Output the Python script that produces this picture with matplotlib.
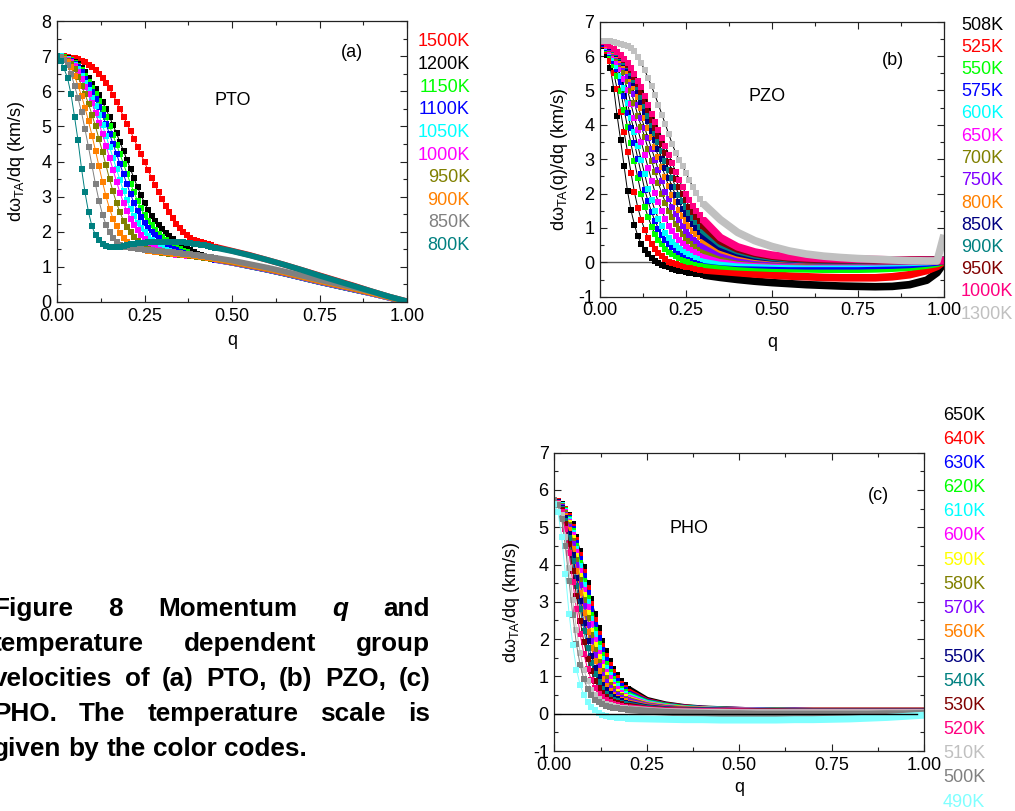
import matplotlib
matplotlib.use('Agg')
import matplotlib.pyplot as plt
from matplotlib.ticker import MultipleLocator, FormatStrFormatter

plt.rcParams['font.family'] = ['Liberation Sans', 'DejaVu Sans']
plt.rcParams['mathtext.fontset'] = 'custom'
plt.rcParams['mathtext.rm'] = 'Liberation Sans'
plt.rcParams['mathtext.it'] = 'Liberation Sans:italic'
plt.rcParams['axes.unicode_minus'] = False

W, H = 1015, 811

# ---------------- (a) PTO ----------------
q_a = [0.00, 0.01, 0.02, 0.03, 0.04, 0.05, 0.06, 0.07, 0.08, 0.09,
       0.10, 0.11, 0.12, 0.13, 0.14, 0.15, 0.16, 0.17, 0.18, 0.19,
       0.20, 0.21, 0.22, 0.23, 0.24, 0.25, 0.26, 0.27, 0.28, 0.29,
       0.30, 0.31, 0.32, 0.33, 0.34, 0.35, 0.36, 0.37, 0.38, 0.39,
       0.40, 0.41, 0.42, 0.43, 0.44, 0.45,
       0.50, 0.55, 0.60, 0.65, 0.70, 0.75, 0.80, 0.85, 0.90, 0.95, 1.00]
n_fine_a = 46
pto_labels = ['1500K', '1200K', '1150K', '1100K', '1050K', '1000K', '950K', '900K', '850K', '800K']
pto_colors = ['#ff0000', '#000000', '#00ff00', '#0000ff', '#00ffff', '#ff00ff',
              '#808000', '#ff8000', '#808080', '#008080']
pto_1500 = [7.00, 7.00, 6.99, 6.98, 6.96, 6.94, 6.91, 6.87, 6.82, 6.76,
            6.69, 6.60, 6.50, 6.38, 6.24, 6.08, 5.90, 5.70, 5.49, 5.28,
            5.07, 4.86, 4.64, 4.42, 4.20, 3.98, 3.76, 3.54, 3.33, 3.12,
            2.92, 2.73, 2.55, 2.38, 2.23, 2.10, 1.99, 1.90, 1.83, 1.77,
            1.73, 1.70, 1.67, 1.64, 1.61, 1.58,
            1.46, 1.34, 1.20, 1.06, 0.91, 0.76, 0.61, 0.46, 0.30, 0.15, 0.02]
pto_1200 = [7.00, 6.99, 6.97, 6.94, 6.89, 6.84, 6.77, 6.67, 6.54, 6.38,
            6.21, 6.05, 5.88, 5.69, 5.49, 5.27, 5.04, 4.80, 4.55, 4.30,
            4.04, 3.78, 3.52, 3.27, 3.04, 2.82, 2.63, 2.46, 2.31, 2.18,
            2.07, 1.97, 1.88, 1.80, 1.72, 1.65, 1.58, 1.52, 1.47, 1.42,
            1.38, 1.34, 1.30, 1.27, 1.24, 1.21,
            1.12, 1.02, 0.92, 0.81, 0.69, 0.57, 0.46, 0.35, 0.24, 0.12, 0.00]
pto_1150 = [7.00, 6.99, 6.97, 6.93, 6.88, 6.81, 6.72, 6.60, 6.44, 6.26,
            6.09, 5.91, 5.71, 5.49, 5.26, 5.01, 4.75, 4.48, 4.21, 3.93,
            3.65, 3.37, 3.12, 2.88, 2.67, 2.48, 2.31, 2.18, 2.06, 1.95,
            1.85, 1.76, 1.68, 1.61, 1.55, 1.50, 1.45, 1.41, 1.38, 1.35,
            1.32, 1.29, 1.27, 1.25, 1.23, 1.21,
            1.12, 1.02, 0.92, 0.81, 0.69, 0.57, 0.46, 0.35, 0.24, 0.12, 0.00]
pto_1100 = [7.00, 6.99, 6.96, 6.92, 6.86, 6.79, 6.69, 6.55, 6.36, 6.17,
            5.99, 5.78, 5.56, 5.32, 5.06, 4.79, 4.50, 4.22, 3.92, 3.63,
            3.35, 3.07, 2.82, 2.60, 2.42, 2.26, 2.12, 2.00, 1.90, 1.81,
            1.72, 1.64, 1.57, 1.51, 1.47, 1.43, 1.40, 1.37, 1.35, 1.33,
            1.30, 1.28, 1.26, 1.24, 1.22, 1.20,
            1.12, 1.02, 0.92, 0.81, 0.69, 0.57, 0.46, 0.35, 0.24, 0.12, 0.00]
pto_1050 = [7.00, 6.99, 6.96, 6.91, 6.84, 6.75, 6.62, 6.44, 6.23, 6.03,
            5.81, 5.57, 5.31, 5.03, 4.73, 4.42, 4.11, 3.78, 3.47, 3.16,
            2.89, 2.64, 2.44, 2.26, 2.11, 1.98, 1.87, 1.77, 1.68, 1.60,
            1.53, 1.48, 1.44, 1.41, 1.38, 1.36, 1.34, 1.32, 1.31, 1.30,
            1.28, 1.27, 1.25, 1.24, 1.22, 1.21,
            1.12, 1.03, 0.93, 0.82, 0.70, 0.58, 0.47, 0.36, 0.24, 0.12, 0.00]
pto_1000 = [7.00, 6.98, 6.95, 6.89, 6.82, 6.71, 6.55, 6.34, 6.13, 5.91,
            5.66, 5.39, 5.09, 4.77, 4.45, 4.11, 3.77, 3.43, 3.11, 2.82,
            2.58, 2.37, 2.19, 2.04, 1.92, 1.80, 1.69, 1.60, 1.53, 1.48,
            1.44, 1.41, 1.39, 1.37, 1.35, 1.34, 1.33, 1.32, 1.31, 1.30,
            1.28, 1.27, 1.25, 1.24, 1.22, 1.21,
            1.12, 1.03, 0.93, 0.82, 0.70, 0.58, 0.47, 0.36, 0.24, 0.12, 0.00]
pto_950 = [7.00, 6.98, 6.94, 6.87, 6.78, 6.62, 6.41, 6.16, 5.92, 5.64,
           5.33, 5.00, 4.64, 4.27, 3.89, 3.50, 3.15, 2.82, 2.55, 2.32,
           2.13, 1.98, 1.86, 1.74, 1.64, 1.57, 1.51, 1.47, 1.44, 1.42,
           1.40, 1.39, 1.38, 1.37, 1.36, 1.35, 1.34, 1.33, 1.32, 1.31,
           1.29, 1.28, 1.26, 1.25, 1.23, 1.22,
           1.13, 1.04, 0.94, 0.83, 0.71, 0.59, 0.48, 0.37, 0.25, 0.13, 0.00]
pto_900 = [7.00, 6.98, 6.92, 6.83, 6.68, 6.44, 6.16, 5.87, 5.53, 5.15,
           4.74, 4.31, 3.86, 3.42, 3.01, 2.66, 2.37, 2.15, 1.97, 1.83,
           1.72, 1.64, 1.58, 1.53, 1.50, 1.47, 1.45, 1.44, 1.43, 1.42,
           1.41, 1.40, 1.39, 1.38, 1.37, 1.36, 1.35, 1.34, 1.33, 1.32,
           1.30, 1.29, 1.27, 1.26, 1.24, 1.23,
           1.15, 1.05, 0.95, 0.84, 0.72, 0.60, 0.49, 0.38, 0.26, 0.13, 0.00]
pto_850 = [7.00, 6.97, 6.88, 6.75, 6.50, 6.16, 5.81, 5.40, 4.92, 4.41,
           3.88, 3.35, 2.88, 2.49, 2.20, 1.98, 1.81, 1.70, 1.62, 1.58,
           1.56, 1.54, 1.53, 1.52, 1.51, 1.49, 1.48, 1.47, 1.46, 1.45,
           1.44, 1.43, 1.42, 1.41, 1.40, 1.39, 1.38, 1.37, 1.36, 1.35,
           1.33, 1.32, 1.30, 1.29, 1.27, 1.26,
           1.18, 1.08, 0.98, 0.87, 0.75, 0.63, 0.52, 0.41, 0.29, 0.15, 0.01]
pto_800 = [7.00, 6.86, 6.65, 6.38, 5.92, 5.28, 4.60, 3.80, 3.12, 2.56,
           2.15, 1.91, 1.76, 1.66, 1.60, 1.57, 1.56, 1.57, 1.58, 1.60,
           1.62, 1.64, 1.65, 1.67, 1.68, 1.69, 1.70, 1.71, 1.71, 1.72,
           1.72, 1.72, 1.72, 1.72, 1.71, 1.71, 1.70, 1.69, 1.68, 1.66,
           1.65, 1.63, 1.61, 1.59, 1.57, 1.55,
           1.45, 1.33, 1.20, 1.06, 0.91, 0.75, 0.60, 0.45, 0.30, 0.15, 0.02]
pto_series = [pto_1500, pto_1200, pto_1150, pto_1100, pto_1050,
              pto_1000, pto_950, pto_900, pto_850, pto_800]

# ---------------- (b) PZO ----------------
q_b = [0.00, 0.01, 0.02, 0.03, 0.04, 0.05, 0.06, 0.07, 0.08, 0.09,
       0.10, 0.11, 0.12, 0.13, 0.14, 0.15, 0.16, 0.17, 0.18, 0.19,
       0.20, 0.21, 0.22, 0.23, 0.24, 0.25, 0.26, 0.27, 0.28, 0.29, 0.30,
       0.35, 0.40, 0.45, 0.50, 0.55, 0.60, 0.65, 0.70, 0.75, 0.80,
       0.85, 0.90, 0.95, 0.98, 1.00]
n_fine_b = 31
pzo_labels = ['508K', '525K', '550K', '575K', '600K', '650K', '700K', '750K',
              '800K', '850K', '900K', '950K', '1000K', '1300K']
pzo_colors = ['#000000', '#ff0000', '#00ff00', '#0000ff', '#00ffff', '#ff00ff',
              '#808000', '#8000ff', '#ff8000', '#000080', '#008080', '#800000',
              '#ff0080', '#c0c0c0']
pzo_508 = [6.45, 6.30, 6.03, 5.65, 5.05, 4.25, 3.55, 2.80, 2.07, 1.52,
           1.10, 0.76, 0.53, 0.37, 0.24, 0.13, 0.05, -0.02, -0.07, -0.11,
           -0.15, -0.18, -0.21, -0.24, -0.26, -0.28, -0.30, -0.32, -0.34, -0.35, -0.37,
           -0.44, -0.50, -0.55, -0.59, -0.62, -0.65, -0.67, -0.69, -0.70, -0.71,
           -0.70, -0.65, -0.52, -0.30, -0.02]
pzo_525 = [6.45, 6.33, 6.14, 5.87, 5.51, 5.03, 4.38, 3.80, 3.21, 2.61,
           2.04, 1.59, 1.23, 0.95, 0.70, 0.52, 0.38, 0.26, 0.17, 0.09,
           0.02, -0.02, -0.05, -0.08, -0.10, -0.13, -0.15, -0.17, -0.19, -0.21, -0.22,
           -0.26, -0.30, -0.34, -0.37, -0.40, -0.42, -0.44, -0.45, -0.45, -0.45,
           -0.42, -0.36, -0.24, -0.12, 0.03]
pzo_550 = [6.45, 6.35, 6.20, 6.02, 5.75, 5.41, 4.99, 4.44, 3.94, 3.46,
           2.95, 2.45, 1.98, 1.61, 1.32, 1.04, 0.81, 0.65, 0.52, 0.40,
           0.31, 0.24, 0.17, 0.12, 0.08, 0.05, 0.02, 0.00, -0.02, -0.04, -0.05,
           -0.10, -0.13, -0.15, -0.17, -0.18, -0.19, -0.20, -0.20, -0.20, -0.19,
           -0.17, -0.14, -0.08, -0.03, 0.04]
pzo_575 = [6.45, 6.36, 6.24, 6.08, 5.86, 5.62, 5.25, 4.83, 4.35, 3.91,
           3.47, 3.02, 2.57, 2.11, 1.77, 1.46, 1.20, 0.98, 0.79, 0.66,
           0.54, 0.45, 0.36, 0.30, 0.25, 0.21, 0.17, 0.13, 0.10, 0.08, 0.07,
           0.02, -0.03, -0.06, -0.08, -0.09, -0.10, -0.10, -0.10, -0.10, -0.09,
           -0.08, -0.06, -0.02, 0.01, 0.05]
pzo_600 = [6.45, 6.37, 6.26, 6.11, 5.93, 5.72, 5.42, 5.08, 4.63, 4.19,
           3.80, 3.39, 2.97, 2.56, 2.14, 1.81, 1.50, 1.27, 1.05, 0.86,
           0.72, 0.60, 0.51, 0.42, 0.36, 0.30, 0.25, 0.20, 0.16, 0.13, 0.09,
           0.03, 0.00, -0.01, -0.02, -0.03, -0.03, -0.03, -0.03, -0.03, -0.02,
           -0.01, 0.00, 0.02, 0.04, 0.05]
pzo_650 = [6.45, 6.37, 6.30, 6.16, 6.02, 5.83, 5.63, 5.33, 5.02, 4.61,
           4.21, 3.86, 3.50, 3.12, 2.75, 2.38, 2.03, 1.75, 1.48, 1.27,
           1.07, 0.91, 0.76, 0.65, 0.55, 0.48, 0.41, 0.35, 0.30, 0.26, 0.22,
           0.13, 0.08, 0.06, 0.04, 0.03, 0.02, 0.02, 0.02, 0.02, 0.02,
           0.03, 0.03, 0.04, 0.05, 0.05]
pzo_700 = [6.45, 6.38, 6.31, 6.20, 6.08, 5.93, 5.76, 5.55, 5.28, 4.99,
           4.63, 4.27, 3.95, 3.64, 3.30, 2.96, 2.62, 2.30, 2.00, 1.74,
           1.50, 1.31, 1.12, 0.97, 0.83, 0.72, 0.61, 0.54, 0.47, 0.41, 0.36,
           0.21, 0.13, 0.09, 0.07, 0.05, 0.04, 0.04, 0.04, 0.04, 0.04,
           0.04, 0.05, 0.05, 0.05, 0.05]
pzo_750 = [6.45, 6.39, 6.32, 6.23, 6.11, 5.99, 5.83, 5.67, 5.42, 5.17,
           4.91, 4.58, 4.21, 3.91, 3.61, 3.30, 2.99, 2.68, 2.37, 2.06,
           1.83, 1.60, 1.40, 1.23, 1.06, 0.92, 0.79, 0.70, 0.61, 0.54, 0.48,
           0.28, 0.16, 0.11, 0.08, 0.07, 0.06, 0.05, 0.05, 0.05, 0.05,
           0.05, 0.05, 0.05, 0.05, 0.05]
pzo_800 = [6.45, 6.39, 6.33, 6.25, 6.14, 6.04, 5.90, 5.75, 5.57, 5.34,
           5.10, 4.81, 4.50, 4.19, 3.92, 3.65, 3.36, 3.07, 2.78, 2.49,
           2.21, 1.96, 1.75, 1.53, 1.36, 1.20, 1.05, 0.92, 0.81, 0.73, 0.66,
           0.38, 0.23, 0.15, 0.11, 0.09, 0.07, 0.06, 0.06, 0.06, 0.06,
           0.06, 0.06, 0.06, 0.05, 0.05]
pzo_850 = [6.45, 6.39, 6.34, 6.27, 6.17, 6.06, 5.94, 5.80, 5.65, 5.43,
           5.21, 4.97, 4.67, 4.37, 4.10, 3.83, 3.57, 3.30, 3.01, 2.73,
           2.46, 2.19, 1.95, 1.75, 1.55, 1.40, 1.26, 1.11, 0.99, 0.88, 0.78,
           0.45, 0.28, 0.18, 0.13, 0.10, 0.08, 0.07, 0.07, 0.07, 0.06,
           0.06, 0.06, 0.06, 0.05, 0.05]
pzo_900 = [6.45, 6.40, 6.34, 6.28, 6.18, 6.09, 5.98, 5.84, 5.70, 5.52,
           5.31, 5.09, 4.82, 4.54, 4.25, 4.00, 3.75, 3.50, 3.23, 2.96,
           2.70, 2.44, 2.18, 1.97, 1.78, 1.60, 1.44, 1.30, 1.16, 1.04, 0.93,
           0.54, 0.34, 0.22, 0.15, 0.11, 0.09, 0.08, 0.08, 0.07, 0.07,
           0.07, 0.06, 0.06, 0.06, 0.05]
pzo_950 = [6.45, 6.40, 6.35, 6.29, 6.20, 6.11, 6.01, 5.88, 5.75, 5.60,
           5.40, 5.19, 4.96, 4.69, 4.42, 4.15, 3.91, 3.68, 3.43, 3.17,
           2.91, 2.66, 2.42, 2.18, 1.98, 1.80, 1.62, 1.47, 1.33, 1.19, 1.07,
           0.62, 0.39, 0.26, 0.18, 0.13, 0.10, 0.09, 0.08, 0.08, 0.07,
           0.07, 0.07, 0.06, 0.06, 0.05]
pzo_1000 = [6.45, 6.40, 6.35, 6.30, 6.22, 6.13, 6.04, 5.92, 5.79, 5.65,
            5.48, 5.28, 5.10, 4.84, 4.58, 4.31, 4.08, 3.85, 3.63, 3.38,
            3.13, 2.88, 2.64, 2.40, 2.18, 1.99, 1.82, 1.65, 1.50, 1.38, 1.24,
            0.72, 0.45, 0.30, 0.21, 0.16, 0.13, 0.11, 0.10, 0.09, 0.08,
            0.07, 0.06, 0.06, 0.05, 0.05]
pzo_1300 = [6.45, 6.45, 6.44, 6.43, 6.41, 6.39, 6.36, 6.33, 6.29, 6.24,
            6.16, 5.98, 5.79, 5.59, 5.36, 5.12, 4.86, 4.58, 4.30, 4.01,
            3.73, 3.44, 3.19, 2.98, 2.80, 2.60, 2.39, 2.19, 2.01, 1.85, 1.71,
            1.24, 0.87, 0.63, 0.46, 0.33, 0.24, 0.18, 0.14, 0.11, 0.09,
            0.07, 0.05, 0.04, 0.04, 0.80]
pzo_series = [pzo_508, pzo_525, pzo_550, pzo_575, pzo_600, pzo_650, pzo_700,
              pzo_750, pzo_800, pzo_850, pzo_900, pzo_950, pzo_1000, pzo_1300]

# ---------------- (c) PHO ----------------
q_c = [0.00, 0.01, 0.02, 0.03, 0.04, 0.05, 0.06, 0.07, 0.08, 0.09,
       0.10, 0.11, 0.12, 0.13, 0.14, 0.15, 0.16, 0.17, 0.18, 0.19, 0.20,
       0.25, 0.30, 0.35, 0.40, 0.45, 0.50, 0.55, 0.60, 0.65, 0.70,
       0.75, 0.80, 0.85, 0.90, 0.95, 1.00]
n_fine_c = 21
pho_labels = ['650K', '640K', '630K', '620K', '610K', '600K', '590K', '580K', '570K',
              '560K', '550K', '540K', '530K', '520K', '510K', '500K', '490K']
pho_colors = ['#000000', '#ff0000', '#0000ff', '#00ff00', '#00ffff', '#ff00ff',
              '#ffff00', '#808000', '#8000ff', '#ff8000', '#000080', '#008080',
              '#800000', '#ff0080', '#c0c0c0', '#808080', '#80ffff']
pho_650 = [5.72, 5.70, 5.62, 5.50, 5.33, 5.08, 4.75, 4.36, 3.93, 3.50,
           3.08, 2.68, 2.30, 1.96, 1.67, 1.42, 1.21, 1.04, 0.89, 0.76, 0.66,
           0.36, 0.24, 0.17, 0.13, 0.11, 0.09, 0.08, 0.07, 0.07, 0.07,
           0.07, 0.07, 0.07, 0.07, 0.07, 0.07]
pho_640 = [5.72, 5.70, 5.61, 5.48, 5.29, 5.02, 4.66, 4.25, 3.81, 3.36,
           2.94, 2.52, 2.15, 1.82, 1.54, 1.30, 1.11, 0.95, 0.81, 0.69, 0.59,
           0.33, 0.22, 0.16, 0.12, 0.10, 0.09, 0.08, 0.07, 0.07, 0.07,
           0.07, 0.07, 0.07, 0.07, 0.07, 0.07]
pho_630 = [5.72, 5.69, 5.60, 5.46, 5.26, 4.96, 4.59, 4.15, 3.69, 3.24,
           2.80, 2.39, 2.02, 1.70, 1.43, 1.20, 1.02, 0.87, 0.74, 0.63, 0.54,
           0.31, 0.21, 0.15, 0.12, 0.10, 0.09, 0.08, 0.07, 0.07, 0.06,
           0.06, 0.06, 0.06, 0.06, 0.06, 0.06]
pho_620 = [5.72, 5.69, 5.59, 5.45, 5.23, 4.91, 4.50, 4.05, 3.57, 3.11,
           2.66, 2.25, 1.88, 1.58, 1.32, 1.11, 0.94, 0.79, 0.67, 0.58, 0.50,
           0.29, 0.20, 0.14, 0.11, 0.10, 0.08, 0.07, 0.07, 0.06, 0.06,
           0.06, 0.06, 0.06, 0.06, 0.06, 0.06]
pho_610 = [5.72, 5.69, 5.59, 5.43, 5.19, 4.85, 4.43, 3.95, 3.46, 2.99,
           2.54, 2.13, 1.77, 1.48, 1.23, 1.03, 0.86, 0.73, 0.62, 0.53, 0.46,
           0.27, 0.18, 0.13, 0.11, 0.09, 0.08, 0.07, 0.06, 0.06, 0.06,
           0.06, 0.06, 0.06, 0.06, 0.06, 0.06]
pho_600 = [5.72, 5.69, 5.58, 5.41, 5.15, 4.79, 4.33, 3.83, 3.33, 2.85,
           2.41, 1.98, 1.64, 1.36, 1.13, 0.95, 0.78, 0.66, 0.56, 0.48, 0.42,
           0.25, 0.17, 0.12, 0.10, 0.09, 0.08, 0.07, 0.06, 0.06, 0.06,
           0.06, 0.06, 0.06, 0.06, 0.06, 0.06]
pho_590 = [5.72, 5.68, 5.57, 5.39, 5.11, 4.72, 4.22, 3.70, 3.18, 2.69,
           2.23, 1.84, 1.53, 1.24, 1.03, 0.85, 0.72, 0.59, 0.50, 0.44, 0.38,
           0.23, 0.16, 0.12, 0.10, 0.08, 0.07, 0.06, 0.06, 0.06, 0.05,
           0.05, 0.05, 0.05, 0.05, 0.05, 0.05]
pho_580 = [5.72, 5.68, 5.56, 5.37, 5.07, 4.64, 4.12, 3.58, 3.05, 2.56,
           2.10, 1.72, 1.40, 1.15, 0.95, 0.77, 0.65, 0.54, 0.47, 0.40, 0.36,
           0.22, 0.15, 0.11, 0.09, 0.08, 0.07, 0.06, 0.06, 0.05, 0.05,
           0.05, 0.05, 0.05, 0.05, 0.05, 0.05]
pho_570 = [5.72, 5.68, 5.55, 5.34, 5.02, 4.54, 4.00, 3.44, 2.90, 2.39,
           1.94, 1.57, 1.27, 1.04, 0.85, 0.70, 0.58, 0.49, 0.42, 0.37, 0.33,
           0.20, 0.14, 0.10, 0.09, 0.08, 0.07, 0.06, 0.05, 0.05, 0.05,
           0.05, 0.05, 0.05, 0.05, 0.05, 0.05]
pho_560 = [5.72, 5.67, 5.53, 5.31, 4.92, 4.42, 3.84, 3.25, 2.70, 2.19,
           1.76, 1.41, 1.14, 0.92, 0.74, 0.61, 0.51, 0.43, 0.38, 0.33, 0.29,
           0.18, 0.12, 0.10, 0.08, 0.07, 0.06, 0.06, 0.05, 0.05, 0.05,
           0.05, 0.05, 0.05, 0.05, 0.05, 0.05]
pho_550 = [5.72, 5.67, 5.51, 5.24, 4.82, 4.25, 3.63, 3.02, 2.44, 1.95,
           1.54, 1.22, 0.98, 0.78, 0.63, 0.52, 0.45, 0.39, 0.33, 0.29, 0.26,
           0.16, 0.11, 0.09, 0.08, 0.07, 0.06, 0.05, 0.05, 0.05, 0.05,
           0.05, 0.05, 0.05, 0.05, 0.05, 0.05]
pho_540 = [5.72, 5.66, 5.49, 5.18, 4.71, 4.09, 3.43, 2.80, 2.23, 1.75,
           1.36, 1.07, 0.85, 0.67, 0.54, 0.45, 0.38, 0.33, 0.29, 0.26, 0.23,
           0.14, 0.10, 0.08, 0.07, 0.06, 0.06, 0.05, 0.05, 0.05, 0.05,
           0.05, 0.05, 0.05, 0.05, 0.05, 0.05]
pho_530 = [5.72, 5.65, 5.47, 5.10, 4.54, 3.84, 3.15, 2.49, 1.93, 1.48,
           1.14, 0.89, 0.69, 0.55, 0.45, 0.38, 0.32, 0.28, 0.25, 0.22, 0.20,
           0.12, 0.09, 0.07, 0.06, 0.06, 0.05, 0.05, 0.05, 0.04, 0.04,
           0.04, 0.04, 0.04, 0.04, 0.04, 0.04]
pho_520 = [5.72, 5.64, 5.40, 4.96, 4.30, 3.53, 2.80, 2.13, 1.60, 1.20,
           0.91, 0.70, 0.54, 0.44, 0.36, 0.31, 0.27, 0.24, 0.21, 0.18, 0.16,
           0.11, 0.08, 0.07, 0.06, 0.05, 0.05, 0.04, 0.04, 0.04, 0.04,
           0.04, 0.04, 0.04, 0.04, 0.04, 0.04]
pho_510 = [5.72, 5.62, 5.32, 4.73, 3.90, 3.04, 2.25, 1.63, 1.18, 0.87,
           0.64, 0.49, 0.39, 0.32, 0.27, 0.23, 0.20, 0.18, 0.16, 0.14, 0.13,
           0.09, 0.06, 0.05, 0.04, 0.04, 0.03, 0.03, 0.03, 0.03, 0.03,
           0.03, 0.03, 0.03, 0.03, 0.03, 0.03]
pho_500 = [5.72, 5.59, 5.22, 4.49, 3.55, 2.64, 1.86, 1.30, 0.92, 0.66,
           0.49, 0.38, 0.31, 0.26, 0.22, 0.19, 0.16, 0.14, 0.13, 0.12, 0.11,
           0.07, 0.04, 0.02, 0.01, 0.00, 0.00, -0.01, -0.01, -0.01, -0.01,
           -0.01, -0.01, -0.01, 0.00, 0.00, 0.01]
pho_490 = [5.62, 5.40, 4.75, 3.75, 2.68, 1.85, 1.18, 0.77, 0.50, 0.32,
           0.19, 0.09, 0.02, -0.03, -0.06, -0.08, -0.10, -0.11, -0.12, -0.12, -0.13,
           -0.14, -0.15, -0.16, -0.16, -0.17, -0.17, -0.17, -0.17, -0.16, -0.16,
           -0.15, -0.14, -0.12, -0.10, -0.07, -0.04]
pho_series = [pho_650, pho_640, pho_630, pho_620, pho_610, pho_600, pho_590,
              pho_580, pho_570, pho_560, pho_550, pho_540, pho_530, pho_520,
              pho_510, pho_500, pho_490]

caption_lines = [
    ['Figure', '8', 'Momentum', 'q', 'and'],
    ['temperature', 'dependent', 'group'],
    ['velocities', 'of', '(a)', 'PTO,', '(b)', 'PZO,', '(c)'],
    ['PHO.', 'The', 'temperature', 'scale', 'is'],
    ['given', 'by', 'the', 'color', 'codes.'],
]


def px_axes(fig, left, top, right, bottom):
    return fig.add_axes([left / W, 1 - bottom / H, (right - left) / W, (bottom - top) / H])


def style_axes(ax, ylim, ylabel, ylab_x, xlab_y):
    ax.set_xlim(0, 1)
    ax.set_ylim(*ylim)
    ax.xaxis.set_major_locator(MultipleLocator(0.25))
    ax.xaxis.set_minor_locator(MultipleLocator(0.125))
    ax.yaxis.set_major_locator(MultipleLocator(1))
    ax.yaxis.set_minor_locator(MultipleLocator(0.5))
    ax.xaxis.set_major_formatter(FormatStrFormatter('%.2f'))
    ax.tick_params(which='both', direction='in', top=True, right=True,
                   labelsize=13, width=0.8, colors='#222222', labelcolor='black')
    ax.tick_params(which='major', length=5, pad=4)
    ax.tick_params(which='minor', length=3)
    for s in ax.spines.values():
        s.set_linewidth(0.9)
        s.set_color('#222222')
    ax.set_xlabel('q', fontsize=13)
    ax.set_ylabel(ylabel, fontsize=13)
    ax.yaxis.set_label_coords(ylab_x, 0.5)
    ax.xaxis.set_label_coords(0.5, xlab_y)


def draw_curves(ax, q, n_fine, series, colors, line_color, ms, band_lw):
    for v, c in zip(series, colors):
        lc = c if line_color is None else line_color
        ax.plot(q[n_fine - 1:], v[n_fine - 1:], color=c, lw=band_lw,
                solid_capstyle='butt', solid_joinstyle='round')
        ax.plot(q[:n_fine], v[:n_fine], color=lc, lw=0.7)
        ax.plot(q[:n_fine], v[:n_fine], ls='none', marker='s', ms=ms,
                mfc=c, mec=c, mew=0)


fig = plt.figure(figsize=(W / 100, H / 100), dpi=100)

# (a)
ax_a = px_axes(fig, 57, 21, 407, 302)
draw_curves(ax_a, q_a, n_fine_a, pto_series, pto_colors, None, 4.2, 4.2)
style_axes(ax_a, (0, 8), 'd\u03c9$_{\\mathrm{TA}}$/dq (km/s)', -0.085, -0.105)
ax_a.text(0.843, 7.09, '(a)', fontsize=13, ha='center', va='center')
ax_a.text(0.503, 5.73, 'PTO', fontsize=13, ha='center', va='center')
for i, (lab, c) in enumerate(zip(pto_labels, pto_colors)):
    fig.text(470 / W, 1 - (42 + 22.6 * i) / H, lab, color=c, fontsize=13,
             ha='right', va='center')

# (b)
ax_b = px_axes(fig, 600, 21.7, 944, 296.7)
ax_b.axhline(0, color='#555555', lw=1.0, zorder=1)
draw_curves(ax_b, q_b, n_fine_b, pzo_series, pzo_colors, 'black', 4.4, 5.5)
style_axes(ax_b, (-1, 7), 'd\u03c9$_{\\mathrm{TA}}$(q)/dq (km/s)', -0.087, -0.135)
ax_b.text(0.852, 5.88, '(b)', fontsize=13, ha='center', va='center')
ax_b.text(0.485, 4.83, 'PZO', fontsize=13, ha='center', va='center')
for i, (lab, c) in enumerate(zip(pzo_labels, pzo_colors)):
    fig.text(961 / W, 1 - (25 + 22.25 * i) / H, lab, color=c, fontsize=13,
             ha='left', va='center')

# (c)
ax_c = px_axes(fig, 554.3, 452.7, 924, 751)
draw_curves(ax_c, q_c, n_fine_c, pho_series, pho_colors, None, 4.3, 5.0)
ax_c.plot([0, 0.98], [0, 0], color='black', lw=1.0, zorder=5)
style_axes(ax_c, (-1, 7), 'd\u03c9$_{\\mathrm{TA}}$/dq (km/s)', -0.087, -0.095)
ax_c.text(0.876, 5.86, '(c)', fontsize=13, ha='center', va='center')
ax_c.text(0.364, 4.98, 'PHO', fontsize=13, ha='center', va='center')
for i, (lab, c) in enumerate(zip(pho_labels, pho_colors)):
    fig.text(943 / W, 1 - (415 + 24.2 * i) / H, lab, color=c, fontsize=13,
             ha='left', va='center')

# caption, justified between x0 and x1 (pixels)
x0, x1 = -7, 430
renderer = fig.canvas.get_renderer()
for i, words in enumerate(caption_lines):
    yb = 1 - (616 + 35 * i) / H
    objs = [fig.text(0, yb, w, fontsize=18.8, fontweight='bold',
                     style='italic' if w == 'q' else 'normal', va='baseline')
            for w in words]
    widths = [t.get_window_extent(renderer).width for t in objs]
    if i == len(caption_lines) - 1:
        gap = 7.2
    else:
        gap = (x1 - x0 - sum(widths)) / (len(words) - 1)
    x = x0
    for t, wd in zip(objs, widths):
        t.set_x(x / W)
        x += wd + gap

fig.savefig('out.png', dpi=100)
